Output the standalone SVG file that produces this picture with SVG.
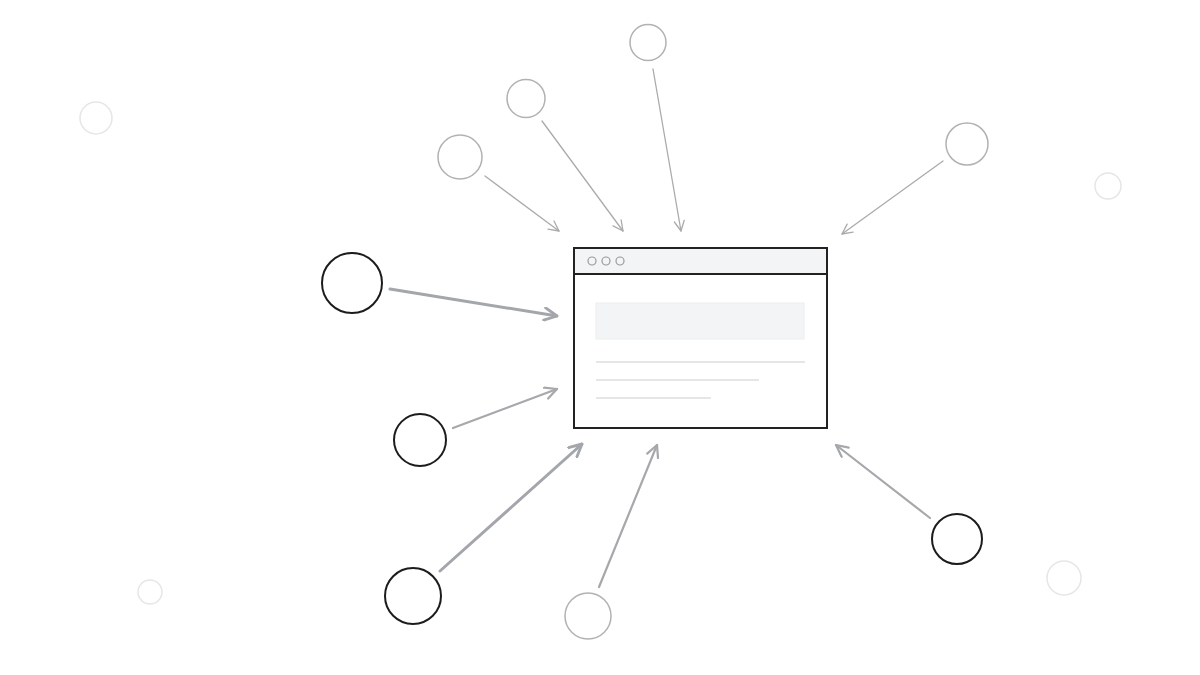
<svg xmlns="http://www.w3.org/2000/svg" width="1200" height="675" viewBox="0 0 1200 675">
<style>
.dark{fill:#fff;stroke:#1c1c1c;stroke-width:2}
.gray{fill:#fff;stroke:#b2b2b2;stroke-width:1.5}
.faint{fill:none;stroke:#e6e6e6;stroke-width:1.5}
.thick{stroke:#a3a6aa;stroke-width:3;fill:none;stroke-linecap:round}
.mid{stroke:#a6a8ab;stroke-width:2.2;fill:none;stroke-linecap:round}
.thin{stroke:#ababab;stroke-width:1.3;fill:none;stroke-linecap:round}
.ln{stroke:#e4e6e8;stroke-width:2}
</style>
<defs>
<marker id="ahB" viewBox="0 0 12 12" refX="11" refY="6" markerWidth="15" markerHeight="15" markerUnits="userSpaceOnUse" orient="auto"><path d="M1,1 L11,6 L1,11" fill="none" stroke="#a3a6aa" stroke-width="2.3" stroke-linecap="round" stroke-linejoin="round"/></marker>
<marker id="ahM" viewBox="0 0 12 12" refX="11" refY="6" markerWidth="14" markerHeight="14" markerUnits="userSpaceOnUse" orient="auto"><path d="M1,1 L11,6 L1,11" fill="none" stroke="#a6a8ab" stroke-width="1.9" stroke-linecap="round" stroke-linejoin="round"/></marker>
<marker id="ahS" viewBox="0 0 12 12" refX="11" refY="6" markerWidth="12" markerHeight="12" markerUnits="userSpaceOnUse" orient="auto"><path d="M1,1 L11,6 L1,11" fill="none" stroke="#ababab" stroke-width="1.3" stroke-linecap="round" stroke-linejoin="round"/></marker>
</defs>
<rect width="1200" height="675" fill="#fff"/>
<g id="connectors">
<line class="thick" x1="390" y1="289" x2="557" y2="316" marker-end="url(#ahB)"/>
<line class="mid" x1="453" y1="428" x2="557" y2="389" marker-end="url(#ahM)"/>
<line class="thick" x1="440" y1="571" x2="582" y2="444" marker-end="url(#ahB)"/>
<line class="mid" x1="599" y1="587" x2="657" y2="445" marker-end="url(#ahM)"/>
<line class="mid" x1="930" y1="518" x2="836" y2="445" marker-end="url(#ahM)"/>
<line class="thin" x1="943" y1="161" x2="842" y2="234" marker-end="url(#ahS)"/>
<line class="thin" x1="485" y1="176" x2="559" y2="231" marker-end="url(#ahS)"/>
<line class="thin" x1="542" y1="121" x2="623" y2="231" marker-end="url(#ahS)"/>
<line class="thin" x1="653" y1="69" x2="681" y2="231" marker-end="url(#ahS)"/>
</g>
<g id="browser">
<rect x="574" y="248" width="253" height="180" fill="#fff" stroke="#222" stroke-width="2"/>
<rect x="575" y="249" width="251" height="25" fill="#f3f4f5"/>
<line x1="574" y1="274" x2="827" y2="274" stroke="#222" stroke-width="2"/>
<rect x="574" y="248" width="253" height="180" fill="none" stroke="#222" stroke-width="2"/>
<circle cx="592" cy="261" r="4" fill="none" stroke="#9a9a9a" stroke-width="1.2"/>
<circle cx="606" cy="261" r="4" fill="none" stroke="#9a9a9a" stroke-width="1.2"/>
<circle cx="620" cy="261" r="4" fill="none" stroke="#9a9a9a" stroke-width="1.2"/>
<rect x="596" y="303" width="208" height="36" fill="#f3f4f6" stroke="#eceef0" stroke-width="1"/>
<line class="ln" x1="596" y1="362" x2="805" y2="362"/>
<line class="ln" x1="596" y1="380" x2="759" y2="380"/>
<line class="ln" x1="596" y1="398" x2="711" y2="398"/>
</g>
<g id="node-left-big"><circle class="dark" cx="352" cy="283" r="30"/></g>
<g id="node-left-mid"><circle class="dark" cx="420" cy="440" r="26"/></g>
<g id="node-bottom-left"><circle class="dark" cx="413" cy="596" r="28"/></g>
<g id="node-bottom"><circle class="gray" cx="588" cy="616" r="23"/></g>
<g id="node-bottom-right"><circle class="dark" cx="957" cy="539" r="25"/></g>
<g id="node-top-right"><circle class="gray" cx="967" cy="144" r="21"/></g>
<g id="node-top-a"><circle class="gray" cx="460" cy="157" r="22"/></g>
<g id="node-top-b"><circle class="gray" cx="526" cy="98.5" r="19"/></g>
<g id="node-top-c"><circle class="gray" cx="648" cy="42.5" r="18"/></g>
<g id="faint-1"><circle class="faint" cx="96" cy="118" r="16"/></g>
<g id="faint-2"><circle class="faint" cx="150" cy="592" r="12"/></g>
<g id="faint-3"><circle class="faint" cx="1108" cy="186" r="13"/></g>
<g id="faint-4"><circle class="faint" cx="1064" cy="578" r="17"/></g>
</svg>
